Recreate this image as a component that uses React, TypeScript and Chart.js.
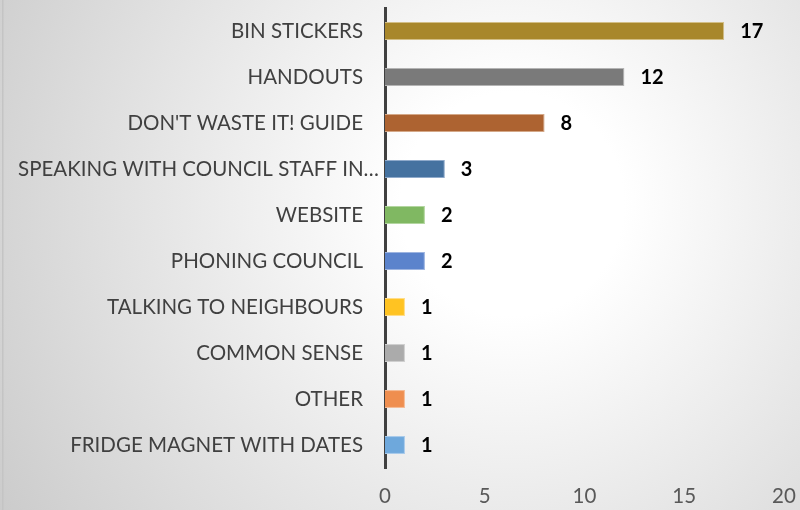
import React, { useEffect, useRef } from "react";
import { Chart, registerables } from "chart.js";

Chart.register(...registerables);

const categories = [
  "BIN STICKERS",
  "HANDOUTS",
  "DON'T WASTE IT! GUIDE",
  "SPEAKING WITH COUNCIL STAFF IN…",
  "WEBSITE",
  "PHONING COUNCIL",
  "TALKING TO NEIGHBOURS",
  "COMMON SENSE",
  "OTHER",
  "FRIDGE MAGNET WITH DATES",
];
const values = [17, 12, 8, 3, 2, 2, 1, 1, 1, 1];
const barColors = [
  "#A8872B", "#7A7A7A", "#AD6331", "#4572A0", "#80B862",
  "#5B83CC", "#FFC322", "#ABABAB", "#EF8E4F", "#6EA8DC",
];
const barBorders = [
  "#D2BE86", "#B4B4B4", "#D4A888", "#8FAACB", "#B3D6A0",
  "#9DB4E0", "#FFDD88", "#CFCFCF", "#F5BB95", "#A8CAEA",
];
const xMin = 0;
const xMax = 20;
const xStep = 5;

const FONT = "Lato, 'Open Sans', sans-serif";
const LABEL_PAD = 22;

const bgPlugin = {
  id: "bgPlugin",
  beforeDraw(chart: any) {
    const { ctx, width, height } = chart;
    ctx.save();
    const cx = width * 0.64;
    const cy = height * 0.4;
    const g = ctx.createRadialGradient(cx, cy, 0, cx, cy, 620);
    g.addColorStop(0, "#ffffff");
    g.addColorStop(0.18, "#ffffff");
    g.addColorStop(1, "#c9c9c9");
    ctx.fillStyle = g;
    ctx.fillRect(0, 0, width, height);
    ctx.fillStyle = "#c4c4c4";
    ctx.fillRect(2, 0, 1.5, height);
    ctx.restore();
  },
};

const categoryLabelPlugin = {
  id: "categoryLabelPlugin",
  afterDraw(chart: any) {
    const { ctx, chartArea } = chart;
    const yScale = chart.scales.y;
    ctx.save();
    ctx.font = `20.5px ${FONT}`;
    ctx.fillStyle = "#404040";
    ctx.textAlign = "right";
    ctx.textBaseline = "middle";
    const rightEdge = chartArea.left - LABEL_PAD;
    categories.forEach((label, i) => {
      const y = yScale.getPixelForValue(i);
      const w = ctx.measureText(label).width;
      // overly long (truncated) labels overhang toward the axis, as in the source
      const x = w > rightEdge - 20 ? rightEdge + 16 : rightEdge;
      ctx.fillText(label, x, y);
    });
    ctx.restore();
  },
};

const valueLabelPlugin = {
  id: "valueLabelPlugin",
  afterDatasetsDraw(chart: any) {
    const { ctx } = chart;
    const meta = chart.getDatasetMeta(0);
    ctx.save();
    ctx.font = `bold 20px ${FONT}`;
    ctx.fillStyle = "#000000";
    ctx.textAlign = "left";
    ctx.textBaseline = "middle";
    meta.data.forEach((bar: any, i: number) => {
      ctx.fillText(String(values[i]), bar.x + 16, bar.y + 1);
    });
    ctx.restore();
  },
};

export default function App() {
  const ref = useRef<HTMLCanvasElement>(null);
  useEffect(() => {
    document.body.style.margin = "0";
    const chart = new Chart(ref.current!, {
      type: "bar",
      data: {
        labels: categories,
        datasets: [
          {
            data: values,
            backgroundColor: barColors,
            borderColor: barBorders,
            borderWidth: 1,
            barPercentage: 0.39,
            categoryPercentage: 1,
          },
        ],
      },
      options: {
        indexAxis: "y",
        animation: false,
        responsive: false,
        layout: { padding: { top: 8, right: 16, left: 0, bottom: 0 } },
        plugins: { legend: { display: false }, tooltip: { enabled: false } },
        scales: {
          x: {
            min: xMin,
            max: xMax,
            ticks: { stepSize: xStep, color: "#595959", font: { family: FONT, size: 20.5 }, padding: 16 },
            grid: { display: false, drawTicks: false },
            border: { display: false },
            afterFit(scale: any) {
              scale.height = 42;
              scale.paddingLeft = 0;
              scale.paddingRight = 0;
            },
          },
          y: {
            ticks: { display: false, autoSkip: false },
            grid: { display: false, drawTicks: false },
            border: { display: true, color: "#404040", width: 3 },
            afterFit(scale: any) {
              scale.width = 385;
              scale.paddingTop = 0;
              scale.paddingBottom = 0;
            },
          },
        },
      },
      plugins: [bgPlugin, categoryLabelPlugin, valueLabelPlugin],
    });
    return () => chart.destroy();
  }, []);
  return <canvas ref={ref} width={800} height={510} style={{ display: "block" }} />;
}
